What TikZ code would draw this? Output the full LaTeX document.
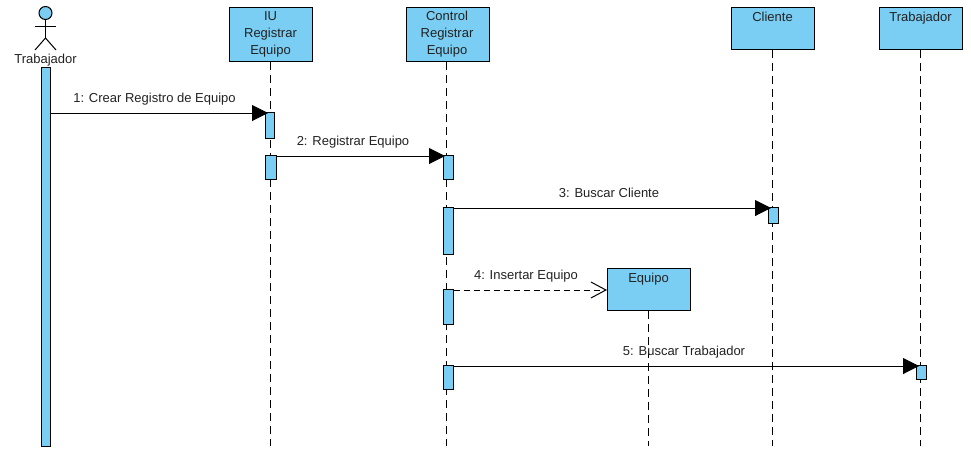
\documentclass[tikz,border=0pt]{standalone}
\usepackage{fontspec}
\setmainfont{Liberation Sans}
\usetikzlibrary{arrows.meta}
\definecolor{umlfill}{HTML}{7ACEF4}
\definecolor{umltext}{HTML}{222222}
\tikzset{
  every node/.style={font=\fontsize{13}{17}\selectfont, text=umltext},
  objbox/.style={draw=black, fill=umlfill, line width=1.1pt, minimum width=83, inner sep=0pt, anchor=north west, align=center},
  activ/.style={draw=black, fill=umlfill, line width=1.1pt, inner sep=0pt, anchor=north west},
  life/.style={draw=black, line width=1pt, dash pattern=on 8pt off 5pt},
  msg/.style={draw=black, line width=1pt, -{Triangle[length=16pt,width=16pt,fill=black]}},
  ret/.style={draw=black, line width=1pt, dash pattern=on 6pt off 4pt, -{Straight Barb[length=15pt,width=16pt,line width=1pt]}},
  actorline/.style={draw=black, line width=1pt},
  lbl/.style={inner sep=0pt, anchor=center},
  basel/.style={inner sep=0pt, anchor=base}
}
\begin{document}
\begin{tikzpicture}[x=1pt,y=-1pt]
\useasboundingbox (0,0) rectangle (971,459);
% objects
\node[objbox, minimum height=54] (iu) at (229,7) {};
\node[lbl, align=center] (iutext) at (270.5,34) {IU\\Registrar\\Equipo};
\node[objbox, minimum height=54] (ctl) at (406,7) {};
\node[lbl, align=center] (ctltext) at (447,34) {Control\\Registrar\\Equipo};
\node[objbox, minimum height=42] (cli) at (731,7) {};
\node[basel] (clitext) at (772.5,21) {Cliente};
\node[objbox, minimum height=42] (tra) at (879,7) {};
\node[basel] (tratext) at (920.5,21) {Trabajador};
\node[objbox, minimum height=42] (equ) at (607,268) {};
\node[basel] (equtext) at (648.5,282) {Equipo};
% lifeline ends
\coordinate (iuend) at (270,446);
\coordinate (ctlend) at (446.5,446);
\coordinate (cliend) at (772,446);
\coordinate (traend) at (920.5,446);
\coordinate (equend) at (648.5,446);
\draw[life] (iuend |- iu.south) -- (iuend);
\draw[life] (ctlend |- ctl.south) -- (ctlend);
\draw[life] (cliend |- cli.south) -- (cliend);
\draw[life] (traend |- tra.south) -- (traend);
\draw[life] (equend |- equ.south) -- (equend);
% actor
\node[circle, draw=black, fill=umlfill, line width=1pt, minimum size=13, inner sep=0pt] (head) at (45.5,13) {};
\coordinate (hip) at (45.5,38);
\coordinate (armL) at (35,26);
\coordinate (armR) at (56,26);
\coordinate (footL) at (35,50);
\coordinate (footR) at (56,50);
\draw[actorline] (head.south) -- (hip);
\draw[actorline] (armL) -- (armR);
\draw[actorline] (footL) -- (hip) -- (footR);
\node[basel] (acttext) at (45.5,63) {Trabajador};
% activations
\node[activ, minimum width=9, minimum height=379] (a0) at (41,67) {};
\node[activ, minimum width=9, minimum height=26] (a1) at (265,112) {};
\node[activ, minimum width=11, minimum height=24] (a2) at (265,155) {};
\node[activ, minimum width=10, minimum height=24] (c1) at (442.5,155) {};
\node[activ, minimum width=10, minimum height=47] (c2) at (442.5,207) {};
\node[activ, minimum width=10, minimum height=35] (c3) at (442.5,289) {};
\node[activ, minimum width=10, minimum height=24] (c4) at (442.5,365) {};
\node[activ, minimum width=10, minimum height=16] (d1) at (768,207) {};
\node[activ, minimum width=10, minimum height=14] (e1) at (916,365) {};
% messages
\coordinate (m1e) at (268,113);
\coordinate (m2e) at (445,156);
\coordinate (m3e) at (771,208);
\coordinate (m4s) at (452.5,290);
\coordinate (m5e) at (919,366);
\draw[msg] (a0.east |- m1e) -- (m1e);
\draw[msg] (a2.east |- m2e) -- (m2e);
\draw[msg] (c2.east |- m3e) -- (m3e);
\draw[ret] (c3.east |- m4s) -- (equ.west |- m4s);
\draw[msg] (c4.east |- m5e) -- (m5e);
\node[basel] (l1) at (154.5,102) {1: Crear Registro de Equipo};
\node[basel] (l2) at (353,145) {2: Registrar Equipo};
\node[basel] (l3) at (609,197) {3: Buscar Cliente};
\node[basel] (l4) at (526,279) {4: Insertar Equipo};
\node[basel] (l5) at (684,355) {5: Buscar Trabajador};
\end{tikzpicture}
\end{document}
